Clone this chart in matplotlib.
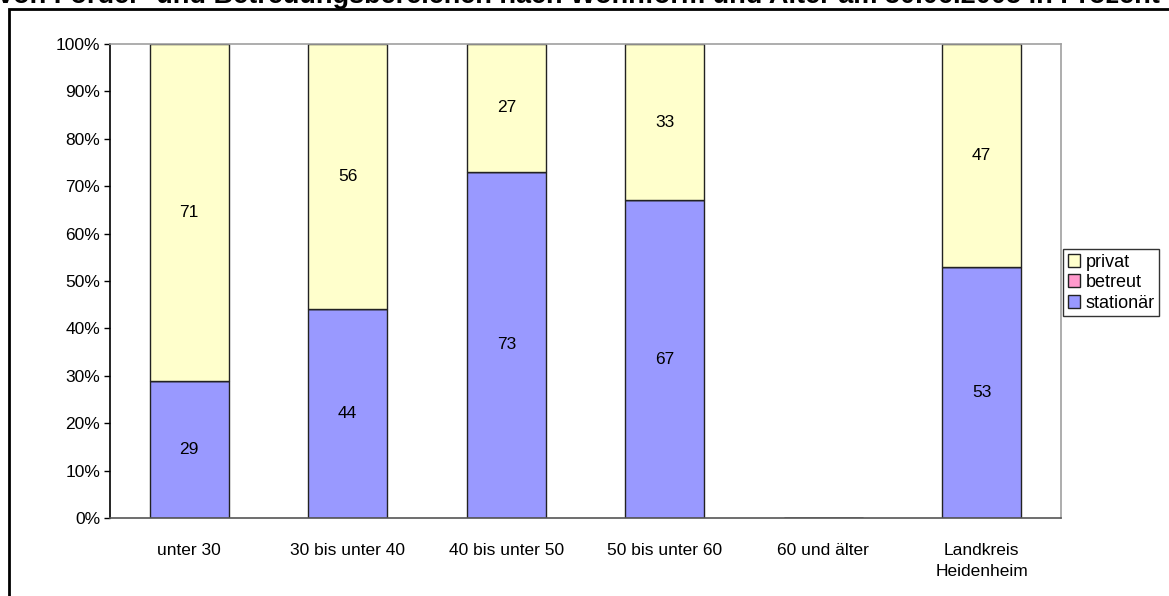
import numpy as np
import matplotlib
matplotlib.use("Agg")
import matplotlib.pyplot as plt
from matplotlib.patches import Rectangle

plt.rcParams['font.family'] = ['Liberation Sans', 'DejaVu Sans']

# Anteile in Prozent je Altersgruppe
kategorien = ['unter 30', '30 bis unter 40', '40 bis unter 50', '50 bis unter 60',
              '60 und älter', 'Landkreis\nHeidenheim']
stationaer = [29, 44, 73, 67, 0, 53]
betreut = [0, 0, 0, 0, 0, 0]
privat = [71, 56, 27, 33, 0, 47]

titel = 'von Förder- und Betreuungsbereichen nach Wohnform und Alter am 30.06.2005 in Prozent'

fs = 12.5

fig = plt.figure(figsize=(11.69, 5.96), dpi=100)
ax = fig.add_axes([110 / 1169, 1 - 518 / 596, 951 / 1169, 474 / 596])

x = np.arange(len(kategorien))
st = np.array(stationaer) / 100
be = np.array(betreut) / 100
pr = np.array(privat) / 100

kw = dict(width=0.5, edgecolor='#222222', linewidth=1)
b1 = ax.bar(x, st, color='#9999FF', label='stationär', **kw)
b2 = ax.bar(x, be, bottom=st, color='#FF99CC', label='betreut', **kw)
b3 = ax.bar(x, pr, bottom=st + be, color='#FFFFCC', label='privat', **kw)

# Werte mittig in die Segmente schreiben
for i in range(len(x)):
    if stationaer[i] > 0:
        ax.text(x[i], st[i] / 2, str(stationaer[i]), ha='center', va='center', fontsize=fs)
    if privat[i] > 0:
        ax.text(x[i], st[i] + be[i] + pr[i] / 2, str(privat[i]), ha='center', va='center', fontsize=fs)

ax.set_xlim(-0.5, len(kategorien) - 0.5)
ax.set_ylim(0, 1)
ax.set_yticks(np.arange(0, 1.01, 0.1))
ax.set_yticklabels(['%d%%' % v for v in range(0, 101, 10)], fontsize=fs)
ax.set_xticks(x)
ax.set_xticklabels(kategorien, fontsize=fs, linespacing=1.5)
ax.tick_params(axis='x', length=0, pad=18)
ax.tick_params(axis='y', length=4, width=1, direction='out', pad=3)

ax.spines['left'].set_color('#000000')
ax.spines['bottom'].set_color('#555555')
ax.spines['top'].set_color('#a0a0a0')
ax.spines['right'].set_color('#a0a0a0')
for s in ax.spines.values():
    s.set_linewidth(1.2)

handles = [b3, b2, b1]
leg = fig.legend(handles, ['privat', 'betreut', 'stationär'], loc='upper left',
                 bbox_to_anchor=(1063 / 1169, 1 - 249 / 596), fontsize=13,
                 frameon=True, fancybox=False, edgecolor='#000000',
                 handlelength=0.7, handleheight=0.7, handletextpad=0.3,
                 borderpad=0.25, labelspacing=0.2, borderaxespad=0)
leg.get_frame().set_linewidth(1)

# Rahmen um die Grafik
fig.patches.append(Rectangle((9 / 1169, -0.1), 1.2, 1 - 9 / 596 + 0.1,
                             transform=fig.transFigure, fill=False,
                             edgecolor='black', linewidth=2))

fig.text(-0.002, 1 - 3 / 596, titel, ha='left', va='baseline',
         fontsize=19.5, fontweight='bold')

fig.savefig('out.png', dpi=100)
